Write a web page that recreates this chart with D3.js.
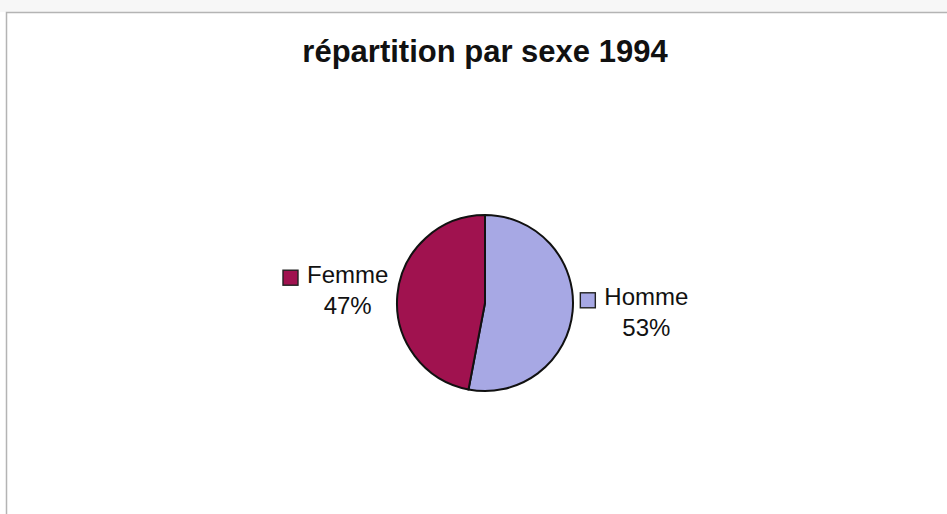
<!DOCTYPE html>
<html>
<head>
<meta charset="utf-8">
<script src="https://cdn.jsdelivr.net/npm/d3@7"></script>
<style>
  body { margin: 0; background: #fff; }
  svg { display: block; }
</style>
</head>
<body>
<script>
// data
const categories = ["Homme", "Femme"];
const values = [53, 47];
const colors = ["#a7a8e4", "#a0124f"];
const title = "répartition par sexe 1994";

const width = 947, height = 514;
const cx = 485, cy = 303, r = 88;

const svg = d3.select("body").append("svg")
  .attr("width", width)
  .attr("height", height);

// faint band above the frame, then the chart frame
svg.append("rect").attr("x", 0).attr("y", 0).attr("width", width).attr("height", 12)
  .attr("fill", "#f7f7f7");
svg.append("rect")
  .attr("x", 6.5).attr("y", 12.5)
  .attr("width", width + 10).attr("height", height + 10)
  .attr("fill", "#fff")
  .attr("stroke", "#b4b4b4")
  .attr("stroke-width", 1.5);

svg.append("text")
  .attr("x", 485).attr("y", 62)
  .attr("text-anchor", "middle")
  .attr("font-family", "Liberation Sans, Arial, sans-serif")
  .attr("font-weight", "bold")
  .attr("font-size", 31)
  .attr("fill", "#111")
  .text(title);

const data = categories.map((c, i) => ({ name: c, value: values[i], color: colors[i] }));

const pie = d3.pie().sort(null).value(d => d.value);
const arcs = pie(data);
const arc = d3.arc().innerRadius(0).outerRadius(r);
const labelArc = d3.arc().innerRadius(150).outerRadius(150);

const g = svg.append("g").attr("transform", `translate(${cx},${cy})`);

g.selectAll("path")
  .data(arcs)
  .join("path")
  .attr("d", arc)
  .attr("fill", d => d.data.color)
  .attr("stroke", "#111")
  .attr("stroke-width", 2);

const total = d3.sum(values);
const fmt = d3.format(".0%");

arcs.forEach(d => {
  const [lx, ly0] = labelArc.centroid(d);
  const ly = ly0 * 0.8;
  const lab = g.append("g");
  const t1 = lab.append("text")
    .attr("font-family", "Liberation Sans, Arial, sans-serif")
    .attr("font-size", 24)
    .attr("fill", "#111")
    .attr("text-anchor", "middle")
    .text(d.data.name);
  const tw = t1.node().getComputedTextLength();
  const keySize = 15, gap = 9;
  const blockW = keySize + gap + tw;
  const textCx = lx - blockW / 2 + keySize + gap + tw / 2;
  t1.attr("x", textCx).attr("y", ly - 9);
  lab.append("text")
    .attr("font-family", "Liberation Sans, Arial, sans-serif")
    .attr("font-size", 24)
    .attr("fill", "#111")
    .attr("text-anchor", "middle")
    .attr("x", textCx).attr("y", ly + 22)
    .text(fmt(d.data.value / total));
  lab.append("rect")
    .attr("x", lx - blockW / 2)
    .attr("y", ly - 9 - 5 - keySize / 2)
    .attr("width", keySize).attr("height", keySize)
    .attr("fill", d.data.color)
    .attr("stroke", "#222")
    .attr("stroke-width", 1.4);
});
</script>
</body>
</html>
